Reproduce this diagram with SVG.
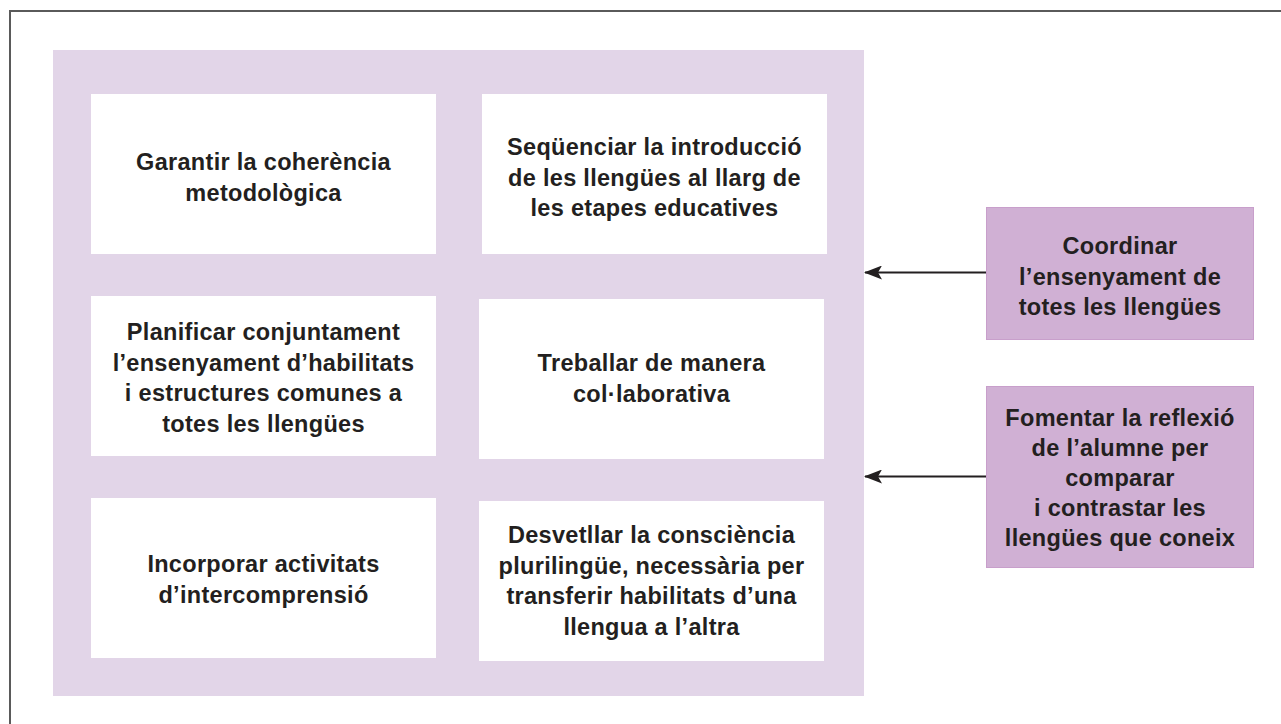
<svg xmlns="http://www.w3.org/2000/svg" width="1281" height="724" viewBox="0 0 1281 724">
<style>
.frame{fill:none;stroke:#5a5a5a;stroke-width:2}
.bg{fill:#E2D5E8}
.box{fill:#FFFFFF}
.side{fill:#D0B0D4;stroke:#C89FCB;stroke-width:1}
text{font-family:"Liberation Sans",Arial,Helvetica,sans-serif;font-weight:bold;font-size:23.5px;letter-spacing:0.3px;fill:#231F20;text-anchor:middle}
.conn{stroke:#231F20;stroke-width:2.2;fill:none;marker-end:url(#ah)}
</style>
<defs>
<marker id="ah" viewBox="0 0 18 14" refX="17" refY="7" markerWidth="18" markerHeight="14" markerUnits="userSpaceOnUse" orient="auto">
<path d="M0,0 L18,7 L0,14 L4,7 Z" fill="#231F20"/>
</marker>
</defs>
<rect width="1281" height="724" fill="#FFFFFF"/>
<rect class="frame" x="10" y="11" width="1290" height="740"/>
<rect id="panel" class="bg" x="53" y="50" width="811" height="646"/>
<g id="n1"><rect class="box" x="91" y="94" width="345" height="160"/>
<text x="263.5" y="170">Garantir la coherència</text><text x="263.5" y="200.5">metodològica</text></g>
<g id="n2"><rect class="box" x="482" y="94" width="345" height="160"/>
<text x="654.5" y="155">Seqüenciar la introducció</text><text x="654.5" y="185.5">de les llengües al llarg de</text><text x="654.5" y="216">les etapes educatives</text></g>
<g id="n3"><rect class="box" x="91" y="296" width="345" height="160"/>
<text x="263.5" y="340">Planificar conjuntament</text><text x="263.5" y="370.5">l’ensenyament d’habilitats</text><text x="263.5" y="401">i estructures comunes a</text><text x="263.5" y="431.5">totes les llengües</text></g>
<g id="n4"><rect class="box" x="479" y="299" width="345" height="160"/>
<text x="651.5" y="371">Treballar de manera</text><text x="651.5" y="401.5">col·laborativa</text></g>
<g id="n5"><rect class="box" x="91" y="498" width="345" height="160"/>
<text x="263.5" y="572">Incorporar activitats</text><text x="263.5" y="602.5">d’intercomprensió</text></g>
<g id="n6"><rect class="box" x="479" y="501" width="345" height="160"/>
<text x="651.5" y="543">Desvetllar la consciència</text><text x="651.5" y="573.5">plurilingüe, necessària per</text><text x="651.5" y="604">transferir habilitats d’una</text><text x="651.5" y="634.5">llengua a l’altra</text></g>
<g id="nA"><rect class="side" x="986.5" y="207.5" width="267" height="132"/>
<text x="1120" y="254">Coordinar</text><text x="1120" y="284.5">l’ensenyament de</text><text x="1120" y="315">totes les llengües</text></g>
<g id="nB"><rect class="side" x="986.5" y="386.5" width="267" height="181"/>
<text x="1120" y="426">Fomentar la reflexió</text><text x="1120" y="456">de l’alumne per</text><text x="1120" y="486">comparar</text><text x="1120" y="516">i contrastar les</text><text x="1120" y="546">llengües que coneix</text></g>
<g id="connectors">
<line class="conn" x1="986" y1="272.5" x2="865" y2="272.5"/>
<line class="conn" x1="986" y1="476.5" x2="865" y2="476.5"/>
</g>
</svg>
